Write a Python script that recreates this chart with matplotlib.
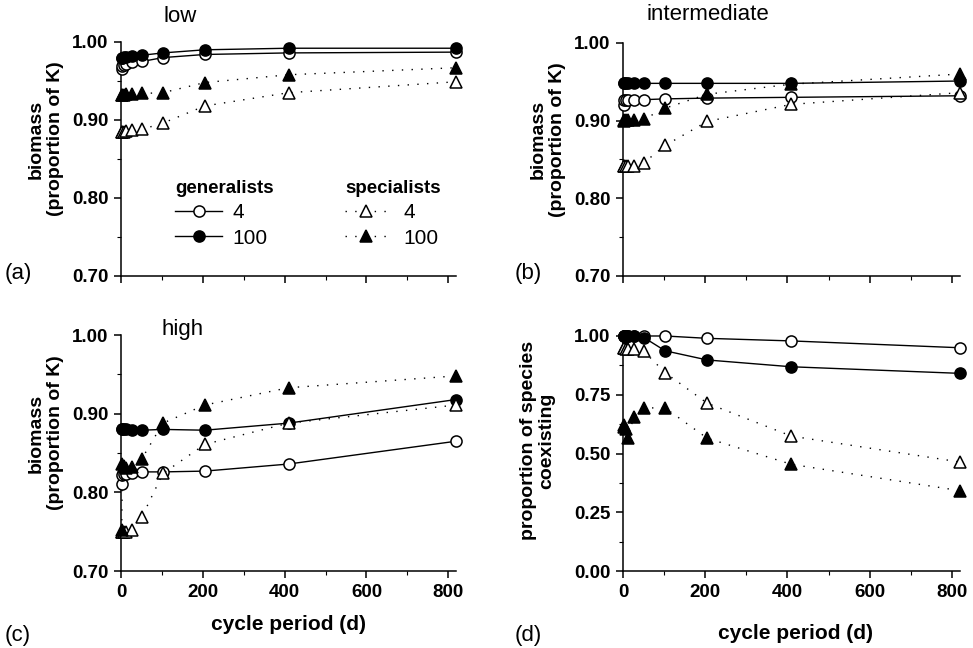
import numpy as np
import matplotlib
matplotlib.use('Agg')
import matplotlib.pyplot as plt
from matplotlib.ticker import FormatStrFormatter, MultipleLocator

plt.rcParams['font.family'] = ['Liberation Sans', 'DejaVu Sans']

# cycle period (d), doubling series
periodo = [1.6, 3.2, 6.4, 12.8, 25.6, 51.2, 102.4, 204.8, 409.6, 819.2]

# (a) low
low_gen4 = [0.966, 0.969, 0.971, 0.972, 0.974, 0.975, 0.980, 0.984, 0.986, 0.987]
low_gen100 = [0.979, 0.980, 0.981, 0.981, 0.982, 0.983, 0.986, 0.990, 0.992, 0.992]
low_spec4 = [0.885, 0.885, 0.885, 0.886, 0.887, 0.888, 0.896, 0.918, 0.935, 0.949]
low_spec100 = [0.932, 0.932, 0.932, 0.933, 0.933, 0.934, 0.935, 0.948, 0.958, 0.967]

# (b) intermediate
int_gen4 = [0.920, 0.926, 0.927, 0.927, 0.927, 0.927, 0.928, 0.929, 0.930, 0.932]
int_gen100 = [0.948, 0.948, 0.948, 0.948, 0.948, 0.948, 0.948, 0.948, 0.948, 0.951]
int_spec4 = [0.841, 0.841, 0.841, 0.841, 0.842, 0.846, 0.868, 0.899, 0.921, 0.936]
int_spec100 = [0.900, 0.901, 0.901, 0.901, 0.901, 0.902, 0.916, 0.934, 0.947, 0.960]

# (c) high
high_gen4 = [0.811, 0.822, 0.823, 0.823, 0.824, 0.826, 0.826, 0.827, 0.836, 0.865]
high_gen100 = [0.880, 0.880, 0.880, 0.880, 0.879, 0.879, 0.880, 0.879, 0.888, 0.918]
high_spec4 = [0.750, 0.750, 0.750, 0.750, 0.752, 0.769, 0.824, 0.861, 0.888, 0.911]
high_spec100 = [0.752, 0.836, 0.833, 0.831, 0.832, 0.843, 0.888, 0.911, 0.933, 0.948]

# (d) proportion of species coexisting
coex_gen4 = [1.0, 1.0, 1.0, 1.0, 1.0, 1.0, 1.0, 0.990, 0.979, 0.950]
coex_gen100 = [1.0, 1.0, 1.0, 1.0, 1.0, 0.993, 0.937, 0.898, 0.869, 0.841]
coex_spec4 = [0.948, 0.948, 0.946, 0.945, 0.944, 0.934, 0.844, 0.714, 0.574, 0.464]
coex_spec100 = [0.614, 0.620, 0.605, 0.566, 0.655, 0.694, 0.694, 0.565, 0.454, 0.342]

dots = (0, (1, 6))


def panel(ax, g4, g100, s4, s100, ylim, ystep, yminor):
    l1, = ax.plot(periodo, g4, '-', color='black', lw=1.0, marker='o', ms=8,
                  mfc='white', mec='black', mew=1.1, clip_on=False, zorder=3)
    l2, = ax.plot(periodo, g100, '-', color='black', lw=1.0, marker='o', ms=8,
                  mfc='black', mec='black', mew=1.1, clip_on=False, zorder=3)
    l3, = ax.plot(periodo, s4, linestyle=dots, color='black', lw=1.0, marker='^', ms=8,
                  mfc='white', mec='black', mew=1.1, clip_on=False, zorder=4)
    l4, = ax.plot(periodo, s100, linestyle=dots, color='black', lw=1.0, marker='^', ms=8,
                  mfc='black', mec='black', mew=1.1, clip_on=False, zorder=4)
    ax.set_xlim(0, 820)
    ax.set_ylim(*ylim)
    ax.xaxis.set_major_locator(MultipleLocator(200))
    ax.xaxis.set_minor_locator(MultipleLocator(100))
    ax.yaxis.set_major_locator(MultipleLocator(ystep))
    ax.yaxis.set_minor_locator(MultipleLocator(yminor))
    ax.yaxis.set_major_formatter(FormatStrFormatter('%.2f'))
    for s in ['top', 'right']:
        ax.spines[s].set_visible(False)
    for s in ['left', 'bottom']:
        ax.spines[s].set_linewidth(1.1)
    ax.tick_params(which='major', direction='out', length=5, width=1.1, labelsize=13.5, pad=4)
    ax.tick_params(which='minor', direction='out', length=3, width=0.8)
    plt.setp(ax.get_yticklabels(), fontweight='bold')
    plt.setp(ax.get_xticklabels(), fontweight='bold')
    return l1, l2, l3, l4


fig = plt.figure(figsize=(9.73, 6.48), dpi=100)
ax_a = fig.add_axes([0.1244, 0.5741, 0.3447, 0.3611])
ax_b = fig.add_axes([0.6403, 0.5741, 0.3464, 0.3596])
ax_c = fig.add_axes([0.1244, 0.1188, 0.3447, 0.3642])
ax_d = fig.add_axes([0.6403, 0.1188, 0.3464, 0.3627])

lineas = panel(ax_a, low_gen4, low_gen100, low_spec4, low_spec100, (0.70, 1.00), 0.10, 0.05)
panel(ax_b, int_gen4, int_gen100, int_spec4, int_spec100, (0.70, 1.00), 0.10, 0.05)
panel(ax_c, high_gen4, high_gen100, high_spec4, high_spec100, (0.70, 1.00), 0.10, 0.05)
panel(ax_d, coex_gen4, coex_gen100, coex_spec4, coex_spec100, (0.0, 1.0), 0.25, 0.125)

ax_a.tick_params(axis='x', labelbottom=False)
ax_b.tick_params(axis='x', labelbottom=False)

# axis labels
for ax in [ax_a, ax_b, ax_c]:
    ax.set_ylabel('biomass\n(proportion of K)', fontsize=14, fontweight='bold',
                  multialignment='center', linespacing=1.15)
    ax.yaxis.set_label_coords(-0.170, 0.585)
ax_d.set_ylabel('proportion of species\ncoexisting', fontsize=14, fontweight='bold',
                multialignment='center', linespacing=1.15)
ax_d.yaxis.set_label_coords(-0.200, 0.555)

ax_c.set_xlabel('cycle period (d)', fontsize=15, fontweight='bold')
ax_c.xaxis.set_label_coords(0.50, -0.186)
ax_d.set_xlabel('cycle period (d)', fontsize=15, fontweight='bold')
ax_d.xaxis.set_label_coords(0.513, -0.226)

# titles inside panels
ax_a.text(0.176, 1.107, 'low', transform=ax_a.transAxes, fontsize=16, ha='center', va='center')
ax_b.text(0.252, 1.12, 'intermediate', transform=ax_b.transAxes, fontsize=16, ha='center', va='center')
ax_c.text(0.182, 1.025, 'high', transform=ax_c.transAxes, fontsize=16, ha='center', va='center')

# panel letters
fig.text(18 / 973, 1 - 273 / 648, '(a)', fontsize=16, ha='center', va='center')
fig.text(528 / 973, 1 - 273 / 648, '(b)', fontsize=16, ha='center', va='center')
fig.text(18 / 973, 1 - 636 / 648, '(c)', fontsize=16, ha='center', va='center')
fig.text(528 / 973, 1 - 636 / 648, '(d)', fontsize=16, ha='center', va='center')

# legends in panel (a)
leg1 = ax_a.legend(lineas[:2], ['4', '100'], title='generalists', loc='upper left',
                   bbox_to_anchor=(0.161, 0.41), frameon=False, fontsize=15,
                   title_fontproperties={'weight': 'bold', 'size': 13.5},
                   alignment='left', handlelength=2.26, handletextpad=0.5,
                   borderpad=0, borderaxespad=0, labelspacing=0.3)
ax_a.add_artist(leg1)
ax_a.legend(lineas[2:], ['4', '100'], title='specialists', loc='upper left',
            bbox_to_anchor=(0.668, 0.41), frameon=False, fontsize=15,
            title_fontproperties={'weight': 'bold', 'size': 13.5},
            alignment='left', handlelength=2.0, handletextpad=0.8,
            borderpad=0, borderaxespad=0, labelspacing=0.3)

fig.savefig('out.png', dpi=100)
